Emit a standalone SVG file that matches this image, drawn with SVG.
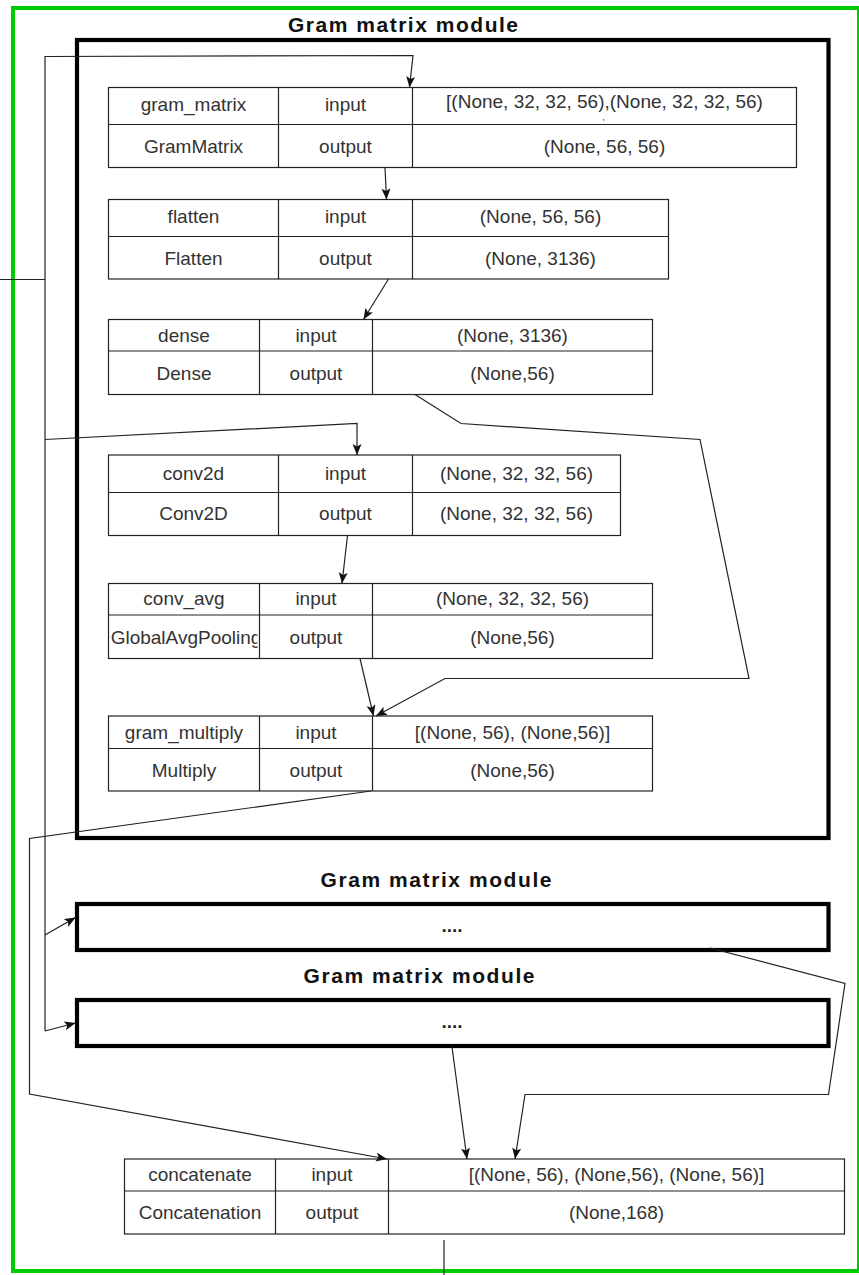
<svg xmlns="http://www.w3.org/2000/svg" width="859" height="1275" viewBox="0 0 859 1275">
<style>
.tb{fill:#fff;stroke:#222;stroke-width:1.2}
.ln{stroke:#222;stroke-width:1.2;fill:none}
.t{font-family:"Liberation Sans",Arial,sans-serif;font-size:19px;fill:#333;text-anchor:middle}
.ttl{font-family:"Liberation Sans",Arial,sans-serif;font-size:21px;font-weight:bold;fill:#111;text-anchor:middle}
.mod{fill:none;stroke:#000;stroke-width:4.2}
.c{fill:none;stroke:#222;stroke-width:1.2}
.ca{fill:none;stroke:#222;stroke-width:1.2;marker-end:url(#ah)}
.dots{font-family:"Liberation Sans",Arial,sans-serif;font-size:19px;font-weight:bold;fill:#222;text-anchor:middle}
</style>
<defs>
<marker id="ah" markerUnits="userSpaceOnUse" markerWidth="12" markerHeight="10" refX="11" refY="4.5" orient="auto">
<path d="M0,0 L11,4.5 L0,9 L2.5,4.5 z" fill="#111"/>
</marker>
<clipPath id="clipGAP"><rect x="108.5" y="615" width="149" height="43"/></clipPath>
</defs>
<rect width="859" height="1275" fill="#fff"/>
<rect x="13" y="8" width="846" height="1263" fill="none" stroke="#00cc00" stroke-width="4"/>

<g id="module1">
<rect class="mod" x="77" y="40" width="751.5" height="798"/>
<text class="ttl" x="403" y="31.5" textLength="230" lengthAdjust="spacing">Gram matrix module</text>
</g>
<g id="module2">
<text class="ttl" x="436" y="887" textLength="231" lengthAdjust="spacing">Gram matrix module</text>
<rect class="mod" x="77" y="904" width="751.5" height="46"/>
<text class="dots" x="452" y="931.5">....</text>
</g>
<g id="module3">
<text class="ttl" x="419" y="983" textLength="231" lengthAdjust="spacing">Gram matrix module</text>
<rect class="mod" x="77" y="1000" width="751.5" height="46"/>
<text class="dots" x="452" y="1028">....</text>
</g>

<g id="gram_matrix">
<rect class="tb" x="108.5" y="87.5" width="688" height="80"/>
<path class="ln" d="M108.5,124.5 H796.5 M278.5,87.5 V167.5 M412.5,87.5 V167.5"/>
<text class="t" x="193.5" y="111">gram_matrix</text>
<text class="t" x="345.5" y="111">input</text>
<text class="t" x="604.5" y="107.5">[(None, 32, 32, 56),(None, 32, 32, 56)</text>
<text class="t" x="603.5" y="120" style="font-size:9px">,</text>
<text class="t" x="193.5" y="152.5">GramMatrix</text>
<text class="t" x="345.5" y="152.5">output</text>
<text class="t" x="604.5" y="152.5">(None, 56, 56)</text>
</g>

<g id="flatten">
<rect class="tb" x="108.5" y="199.5" width="560" height="79.5"/>
<path class="ln" d="M108.5,236.5 H668.5 M278.5,199.5 V279 M412.5,199.5 V279"/>
<text class="t" x="193.5" y="223">flatten</text>
<text class="t" x="345.5" y="223">input</text>
<text class="t" x="540.5" y="223">(None, 56, 56)</text>
<text class="t" x="193.5" y="264.5">Flatten</text>
<text class="t" x="345.5" y="264.5">output</text>
<text class="t" x="540.5" y="264.5">(None, 3136)</text>
</g>

<g id="dense">
<rect class="tb" x="108.5" y="319.5" width="544" height="75"/>
<path class="ln" d="M108.5,351 H652.5 M259.5,319.5 V394.5 M372.5,319.5 V394.5"/>
<text class="t" x="184" y="341.5">dense</text>
<text class="t" x="316" y="341.5">input</text>
<text class="t" x="512.5" y="341.5">(None, 3136)</text>
<text class="t" x="184" y="379.5">Dense</text>
<text class="t" x="316" y="379.5">output</text>
<text class="t" x="512.5" y="379.5">(None,56)</text>
</g>

<g id="conv2d">
<rect class="tb" x="108.5" y="455" width="512" height="80.5"/>
<path class="ln" d="M108.5,492.5 H620.5 M278.5,455 V535.5 M412.5,455 V535.5"/>
<text class="t" x="193.5" y="480">conv2d</text>
<text class="t" x="345.5" y="480">input</text>
<text class="t" x="516.5" y="480">(None, 32, 32, 56)</text>
<text class="t" x="193.5" y="520">Conv2D</text>
<text class="t" x="345.5" y="520">output</text>
<text class="t" x="516.5" y="520">(None, 32, 32, 56)</text>
</g>

<g id="conv_avg">
<rect class="tb" x="108.5" y="583.5" width="544" height="75"/>
<path class="ln" d="M108.5,615 H652.5 M259.5,583.5 V658.5 M372.5,583.5 V658.5"/>
<text class="t" x="184" y="605">conv_avg</text>
<text class="t" x="316" y="605">input</text>
<text class="t" x="512.5" y="605">(None, 32, 32, 56)</text>
<text class="t" x="186" y="643.5" clip-path="url(#clipGAP)">GlobalAvgPooling</text>
<text class="t" x="316" y="643.5">output</text>
<text class="t" x="512.5" y="643.5">(None,56)</text>
</g>

<g id="gram_multiply">
<rect class="tb" x="108.5" y="716" width="544" height="75"/>
<path class="ln" d="M108.5,748.5 H652.5 M259.5,716 V791 M372.5,716 V791"/>
<text class="t" x="184" y="738.5">gram_multiply</text>
<text class="t" x="316" y="738.5">input</text>
<text class="t" x="512.5" y="738.5">[(None, 56), (None,56)]</text>
<text class="t" x="184" y="776.5">Multiply</text>
<text class="t" x="316" y="776.5">output</text>
<text class="t" x="512.5" y="776.5">(None,56)</text>
</g>

<g id="concatenate">
<rect class="tb" x="124.5" y="1159" width="720" height="75"/>
<path class="ln" d="M124.5,1191 H844.5 M275.5,1159 V1234 M388.5,1159 V1234"/>
<text class="t" x="200" y="1180.5">concatenate</text>
<text class="t" x="332" y="1180.5">input</text>
<text class="t" x="616.5" y="1180.5">[(None, 56), (None,56), (None, 56)]</text>
<text class="t" x="200" y="1218.5">Concatenation</text>
<text class="t" x="332" y="1218.5">output</text>
<text class="t" x="616.5" y="1218.5">(None,168)</text>
</g>

<g id="connectors">
<path class="c" d="M0,279.5 H45"/>
<path class="ca" d="M45,1031 V56.5 L413,55.5 L409.5,87.5"/>
<path class="ca" d="M45,439.5 L357,423.5 V455"/>
<path class="ca" d="M45,935 L75.5,917.5"/>
<path class="ca" d="M45,1031 L75.5,1023"/>
<path class="ca" d="M385,167.5 L386.5,199.5"/>
<path class="ca" d="M388.5,279 L363.5,319.5"/>
<path class="ca" d="M415,394.5 L461,423.5 L700,439.5 L749,678.5 L445,678.5 L376,716"/>
<path class="ca" d="M347.5,535.5 L342,583.5"/>
<path class="ca" d="M360,658.5 L373.5,716"/>
<path class="ca" d="M371,791 L29.5,838.5 V1094 L387,1159"/>
<path class="ca" d="M710,948 L845,983.5 L828.5,1094.5 L525,1094.5 L515,1159"/>
<path class="ca" d="M452,1047 L467,1159"/>
<path class="c" d="M444,1240 V1275"/>
</g>
</svg>
